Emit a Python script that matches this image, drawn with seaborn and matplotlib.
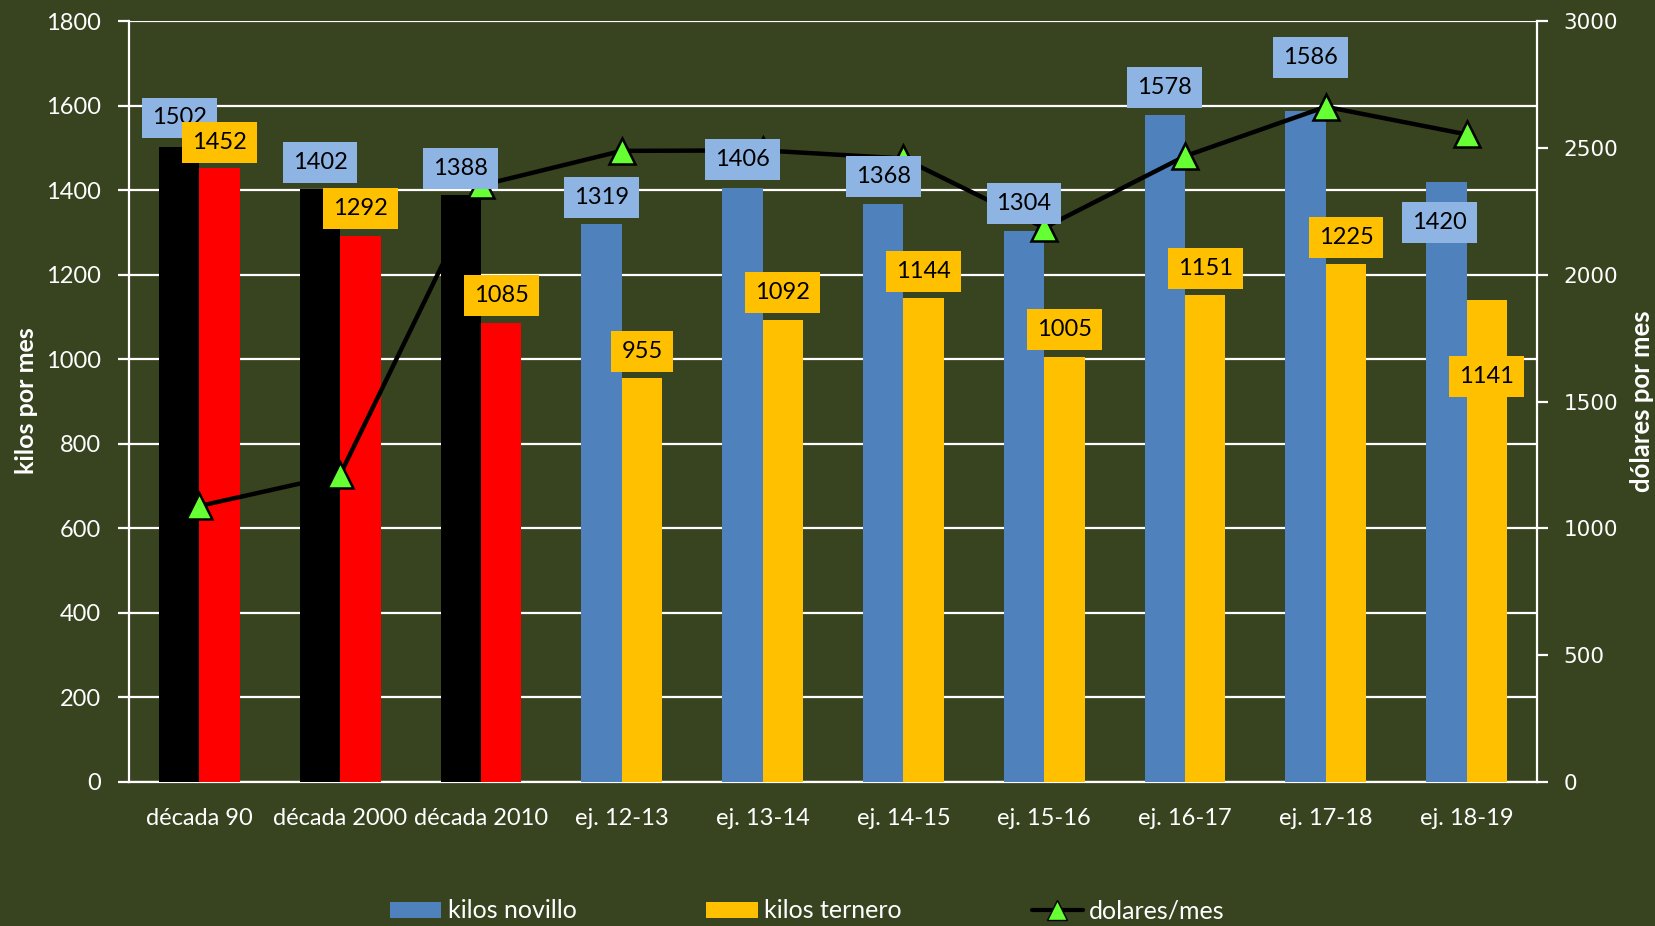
import numpy as np
import pandas as pd
import matplotlib
matplotlib.use("Agg")
import matplotlib.pyplot as plt
import seaborn as sns
from matplotlib.lines import Line2D
from matplotlib.patches import Patch

# ---------------- data ----------------
periodos = ["década 90", "década 2000", "década 2010", "ej. 12-13", "ej. 13-14",
            "ej. 14-15", "ej. 15-16", "ej. 16-17", "ej. 17-18", "ej. 18-19"]
kilos_novillo = [1502, 1402, 1388, 1319, 1406, 1368, 1304, 1578, 1586, 1420]
kilos_ternero = [1452, 1292, 1085, 955, 1092, 1144, 1005, 1151, 1225, 1141]
dolares_mes = [1088, 1212, 2352, 2488, 2490, 2458, 2185, 2467, 2662, 2553]
series_names = ["kilos novillo", "kilos ternero", "dolares/mes"]

# ---------------- style ----------------
BG = "#38431F"
BLUE = "#4F81BD"
YELLOW = "#FFC000"
BLUE_LBL = "#8DB4E2"
GREEN = "#66FF33"
N_DECADAS = 3
# label offsets (pixels above bar top)
off_nov = [29, 27, 27, 27, 28, 27, 27, 27, 54, -41]
dx_nov = [0, 0, 0, 0, 0, 0, 0, 0, 5, -7]
off_ter = [26, 27, 28, 27, 28, 27, 28, 27, 27, -77]

sns.set_theme(style="white")
plt.rcParams["font.family"] = ["Lato", "DejaVu Sans"]

fig = plt.figure(figsize=(16.55, 9.26), dpi=100, facecolor=BG)
ax = fig.add_axes([129 / 1655, 1 - 782 / 926, (1537 - 129) / 1655, (782 - 21) / 926])
ax.set_facecolor(BG)

df = pd.DataFrame({
    "periodo": periodos * 2,
    "kilos": kilos_novillo + kilos_ternero,
    "tipo": [series_names[0]] * len(periodos) + [series_names[1]] * len(periodos),
})
sns.barplot(data=df, x="periodo", y="kilos", hue="tipo", palette=[BLUE, YELLOW],
            saturation=1, width=0.575, gap=0, linewidth=0, legend=False, ax=ax, zorder=3)

# recolor decade bars
for i, p in enumerate(ax.containers[0].patches):
    if i < N_DECADAS:
        p.set_facecolor("black")
for i, p in enumerate(ax.containers[1].patches):
    if i < N_DECADAS:
        p.set_facecolor("#FF0000")

ax.set_ylim(0, 1800)
ax.set_xlim(-0.5, len(periodos) - 0.5)
ax.set_yticks(np.arange(0, 1801, 200))
ax.yaxis.grid(True, color="white", lw=1.6, zorder=0)
ax.set_axisbelow(True)
ax.set_xlabel("")
ax.set_ylabel("")
ax.set_xticks(range(len(periodos)))
ax.set_xticklabels(periodos)
ax.set_xticks(np.arange(-0.5, len(periodos), 1.0), minor=True)
ax.tick_params(axis="x", which="major", length=0, pad=19, colors="white", labelsize=17)
ax.tick_params(axis="x", which="minor", length=8, width=1.6, color="white", direction="out")
ax.tick_params(axis="y", which="major", length=8, width=1.6, color="white", direction="out",
               pad=12, labelcolor="white", labelsize=17, left=True)
for s in ["left", "bottom"]:
    ax.spines[s].set_color("white")
    ax.spines[s].set_linewidth(1.6)
ax.spines["top"].set_visible(False)
ax.spines["right"].set_visible(False)

# twin axis line
ax2 = ax.twinx()
ax2.set_facecolor("none")
sns.lineplot(x=np.arange(len(periodos)), y=dolares_mes, ax=ax2, color="black", lw=3.2,
             marker="^", markersize=19, markerfacecolor=GREEN, markeredgecolor="black",
             markeredgewidth=1.8, zorder=4)
ax2.set_ylim(0, 3000)
ax2.set_yticks(np.arange(0, 3001, 500))
ax2.set_ylabel("")
ax2.tick_params(axis="y", which="major", length=8, width=1.6, color="white", direction="out",
                pad=11, labelcolor="white", labelsize=15.5, right=True)
for lbl in ax2.get_yticklabels():
    lbl.set_fontfamily("DejaVu Sans")
ax2.spines["right"].set_color("white")
ax2.spines["right"].set_linewidth(1.6)
for s in ["left", "bottom", "top"]:
    ax2.spines[s].set_visible(False)
ax2.grid(False)

# data labels
box_pad = "square,pad=0.42"
for i, p in enumerate(ax.containers[0].patches):
    xc = p.get_x() + p.get_width() / 2
    ax2.annotate(str(kilos_novillo[i]), xy=(xc, p.get_height()), xycoords=ax.transData,
                 xytext=(dx_nov[i], off_nov[i]), textcoords="offset pixels",
                 ha="center", va="center", fontsize=17, color="black", zorder=6,
                 bbox=dict(boxstyle=box_pad, fc=BLUE_LBL, ec="none"))
for i, p in enumerate(ax.containers[1].patches):
    xc = p.get_x() + p.get_width() / 2
    ax2.annotate(str(kilos_ternero[i]), xy=(xc, p.get_height()), xycoords=ax.transData,
                 xytext=(0, off_ter[i]), textcoords="offset pixels",
                 ha="center", va="center", fontsize=17, color="black", zorder=7,
                 bbox=dict(boxstyle=box_pad, fc=YELLOW, ec="none"))

# axis titles
fig.text(26 / 1655, 1 - 401 / 926, "kilos por mes", rotation=90, ha="center", va="center",
         color="white", fontsize=18, fontweight="bold")
fig.text(1642 / 1655, 1 - 401 / 926, "dólares por mes", rotation=90, ha="center", va="center",
         color="white", fontsize=18.5, fontweight="bold")

# legend
handles = [Patch(facecolor=BLUE, edgecolor="none"),
           Patch(facecolor=YELLOW, edgecolor="none"),
           Line2D([0], [0], color="black", lw=3, marker="^", markersize=14,
                  markerfacecolor=GREEN, markeredgecolor="black")]
leg = fig.legend(handles, series_names, loc="center left", bbox_to_anchor=(390 / 1655, 1 - 911 / 926),
                 ncol=3, frameon=False, fontsize=18, labelcolor="white", handlelength=2.05,
                 handleheight=0.6, handletextpad=0.25, columnspacing=5.2, borderpad=0,
                 borderaxespad=0)

fig.savefig("out.png", dpi=100, facecolor=BG)
